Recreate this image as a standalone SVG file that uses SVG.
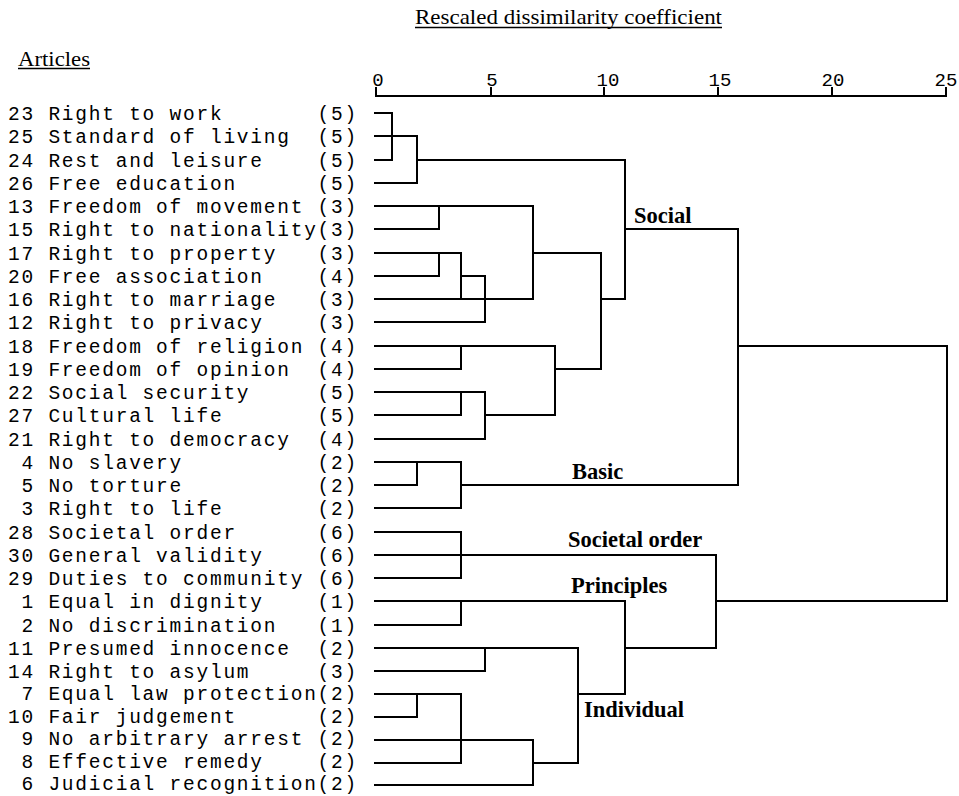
<svg xmlns="http://www.w3.org/2000/svg" width="959" height="796" viewBox="0 0 959 796">
<style>
.ttl{font-family:"Liberation Serif","Times New Roman",serif;font-size:22px;fill:#000}
.ax{font-family:"Liberation Mono","Courier New",monospace;font-size:19px;fill:#000;text-anchor:middle}
.lbl{font-family:"Liberation Mono","Courier New",monospace;font-size:19.5px;letter-spacing:1.76px;fill:#000;white-space:pre}
.grp{font-family:"Liberation Serif","Times New Roman",serif;font-size:22.5px;font-weight:bold;fill:#000}
.ln{fill:none;stroke:#000;stroke-width:2;stroke-linecap:square}
.ul{fill:none;stroke:#000;stroke-width:1.4}
</style>
<rect x="0" y="0" width="959" height="796" fill="#fff"/>
<g id="title">
<text class="ttl" x="415" y="24" textLength="307" lengthAdjust="spacingAndGlyphs">Rescaled dissimilarity coefficient</text>
<line class="ul" x1="415" y1="27.5" x2="722" y2="27.5"/>
</g>
<g id="articles-heading">
<text class="ttl" x="18" y="65.5" textLength="72" lengthAdjust="spacingAndGlyphs">Articles</text>
<line class="ul" x1="18" y1="68.5" x2="90" y2="68.5"/>
</g>
<g id="axis">
<path class="ln" d="M376 96H946 M376 88V96 M491 88V96 M604 88V96 M718 88V96 M832 88V96 M946 88V96"/>
<text class="ax" x="378" y="86">0</text>
<text class="ax" x="492" y="86">5</text>
<text class="ax" x="608" y="86">10</text>
<text class="ax" x="720" y="86">15</text>
<text class="ax" x="833" y="86">20</text>
<text class="ax" x="946" y="86">25</text>
</g>
<g id="leaves" xml:space="preserve">
<g id="leaf-23"><text class="lbl" x="8" y="120">23 Right to work       (5)</text></g>
<g id="leaf-25"><text class="lbl" x="8" y="143">25 Standard of living  (5)</text></g>
<g id="leaf-24"><text class="lbl" x="8" y="167">24 Rest and leisure    (5)</text></g>
<g id="leaf-26"><text class="lbl" x="8" y="190">26 Free education      (5)</text></g>
<g id="leaf-13"><text class="lbl" x="8" y="213">13 Freedom of movement (3)</text></g>
<g id="leaf-15"><text class="lbl" x="8" y="236">15 Right to nationality(3)</text></g>
<g id="leaf-17"><text class="lbl" x="8" y="260">17 Right to property   (3)</text></g>
<g id="leaf-20"><text class="lbl" x="8" y="283">20 Free association    (4)</text></g>
<g id="leaf-16"><text class="lbl" x="8" y="306">16 Right to marriage   (3)</text></g>
<g id="leaf-12"><text class="lbl" x="8" y="329">12 Right to privacy    (3)</text></g>
<g id="leaf-18"><text class="lbl" x="8" y="353">18 Freedom of religion (4)</text></g>
<g id="leaf-19"><text class="lbl" x="8" y="376">19 Freedom of opinion  (4)</text></g>
<g id="leaf-22"><text class="lbl" x="8" y="399">22 Social security     (5)</text></g>
<g id="leaf-27"><text class="lbl" x="8" y="422">27 Cultural life       (5)</text></g>
<g id="leaf-21"><text class="lbl" x="8" y="446">21 Right to democracy  (4)</text></g>
<g id="leaf-4"><text class="lbl" x="8" y="469"> 4 No slavery          (2)</text></g>
<g id="leaf-5"><text class="lbl" x="8" y="492"> 5 No torture          (2)</text></g>
<g id="leaf-3"><text class="lbl" x="8" y="515"> 3 Right to life       (2)</text></g>
<g id="leaf-28"><text class="lbl" x="8" y="539">28 Societal order      (6)</text></g>
<g id="leaf-30"><text class="lbl" x="8" y="562">30 General validity    (6)</text></g>
<g id="leaf-29"><text class="lbl" x="8" y="585">29 Duties to community (6)</text></g>
<g id="leaf-1"><text class="lbl" x="8" y="608"> 1 Equal in dignity    (1)</text></g>
<g id="leaf-2"><text class="lbl" x="8" y="632"> 2 No discrimination   (1)</text></g>
<g id="leaf-11"><text class="lbl" x="8" y="655">11 Presumed innocence  (2)</text></g>
<g id="leaf-14"><text class="lbl" x="8" y="678">14 Right to asylum     (3)</text></g>
<g id="leaf-7"><text class="lbl" x="8" y="700"> 7 Equal law protection(2)</text></g>
<g id="leaf-10"><text class="lbl" x="8" y="722.5">10 Fair judgement      (2)</text></g>
<g id="leaf-9"><text class="lbl" x="8" y="745"> 9 No arbitrary arrest (2)</text></g>
<g id="leaf-8"><text class="lbl" x="8" y="767.5"> 8 Effective remedy    (2)</text></g>
<g id="leaf-6"><text class="lbl" x="8" y="790"> 6 Judicial recognition(2)</text></g>
</g>
<g id="connectors">
<path class="ln" d="M375 113H392 M375 136H417 M375 160H392 M417 160H625 M375 183H417 M375 206H533 M375 229H439 M625 229H738 M375 253H461 M533 253H601 M375 276H439 M461 276H485 M375 299H533 M601 299H625 M375 322H485 M375 346H555 M738 346H947 M375 369H461 M555 369H601 M375 392H485 M375 415H461 M485 415H555 M375 439H485 M375 462H461 M375 485H417 M461 485H738 M375 508H461 M375 532H461 M375 555H716 M375 578H461 M375 601H625 M716 601H947 M375 625H461 M375 648H578 M625 648H716 M375 671H485 M375 694H461 M578 694H625 M375 717H417 M375 740H533 M375 763H461 M533 763H578 M375 785H533"/>
<path class="ln" d="M392 113V160 M417 136V183 M439 206V229 M439 253V276 M461 253V299 M485 276V322 M533 206V299 M461 346V369 M461 392V415 M485 392V439 M555 346V415 M601 253V369 M625 160V299 M417 462V485 M461 462V508 M738 229V485 M461 532V578 M461 601V625 M485 648V671 M417 694V717 M461 694V763 M533 740V785 M578 648V763 M625 601V694 M716 555V648 M947 346V601"/>
</g>
<g id="cluster-social"><text class="grp" x="634" y="223">Social</text></g>
<g id="cluster-basic"><text class="grp" x="572" y="479">Basic</text></g>
<g id="cluster-societal-order"><text class="grp" x="568" y="547">Societal order</text></g>
<g id="cluster-principles"><text class="grp" x="571" y="593">Principles</text></g>
<g id="cluster-individual"><text class="grp" x="584" y="717">Individual</text></g>
</svg>
